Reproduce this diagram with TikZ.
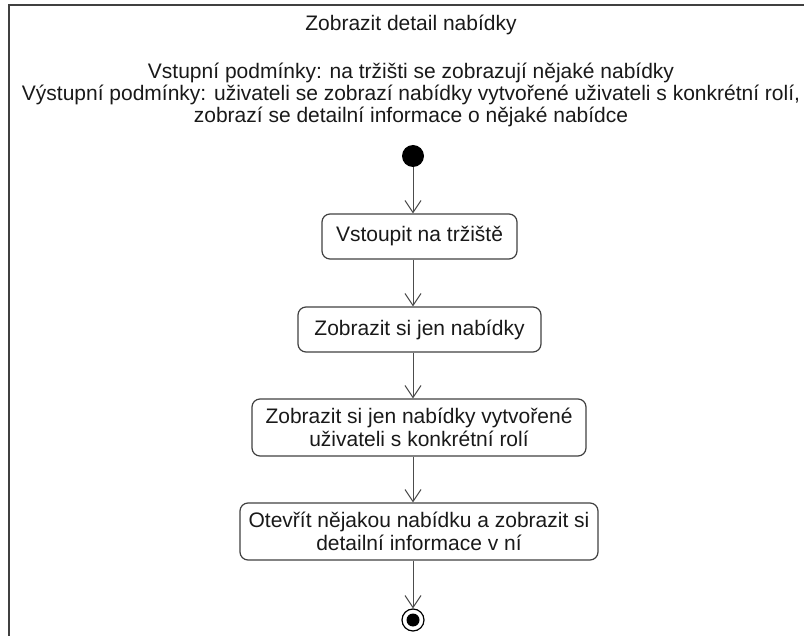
\documentclass[tikz,border=0pt]{standalone}
\usepackage{fontspec}
\setmainfont{Liberation Sans}
\usetikzlibrary{arrows.meta}
\begin{document}
\begin{tikzpicture}[x=1pt,y=-1pt,
  every node/.style={font=\fontsize{21}{22.5}\selectfont, text=black!90},
  label/.style={anchor=base, inner sep=0pt},
  action/.style={draw=black!75, line width=1.2pt, rounded corners=8pt,
                 align=center, inner sep=0pt},
  initial/.style={circle, fill=black, minimum size=22pt, inner sep=0pt},
  final/.style={circle, draw=black, line width=1.2pt, minimum size=22pt, inner sep=0pt},
  finaldot/.style={circle, fill=black, minimum size=13pt, inner sep=0pt},
  flow/.style={draw=black!70, line width=1pt, -{Straight Barb[length=12pt,width=16pt]}},
  frame/.style={draw=black!75, line width=2pt}]
\useasboundingbox (0,0) rectangle (804,636);

% outer frame of the activity
\draw[frame] (9,5) rectangle (840,670);

% heading and conditions
\node[label] (title) at (411,31) {Zobrazit detail nabídky};
\node[label] (pre)   at (411,79) {Vstupní podmínky: na tržišti se zobrazují nějaké nabídky};
\node[label] (post1) at (411,101) {Výstupní podmínky: uživateli se zobrazí nabídky vytvořené uživateli s konkrétní rolí,};
\node[label] (post2) at (411,123) {zobrazí se detailní informace o nějaké nabídce};

% initial and final states
\node[initial] (start) at (413,156) {};
\node[final] (end) at (413,620) {};
\node[finaldot] (enddot) at (end) {};

% actions
\node[action, minimum width=195pt, minimum height=45pt] (b1) at (419.5,236.5)
  {Vstoupit na tržiště};
\node[action, minimum width=243pt, minimum height=45pt] (b2) at (419.5,329.5)
  {Zobrazit si jen nabídky};
\node[action, minimum width=334pt, minimum height=57pt] (b3) at (419,427.5)
  {Zobrazit si jen nabídky vytvořené\\uživateli s konkrétní rolí};
\node[action, minimum width=358pt, minimum height=57pt] (b4) at (419,531.5)
  {Otevřít nějakou nabídku a zobrazit si\\detailní informace v ní};

% control flow
\draw[flow] (start) -- (start |- b1.north);
\draw[flow] (b1.south -| start) -- (b2.north -| start);
\draw[flow] (b2.south -| start) -- (b3.north -| start);
\draw[flow] (b3.south -| start) -- (b4.north -| start);
\draw[flow] (b4.south -| start) -- (end.north);
\end{tikzpicture}
\end{document}
